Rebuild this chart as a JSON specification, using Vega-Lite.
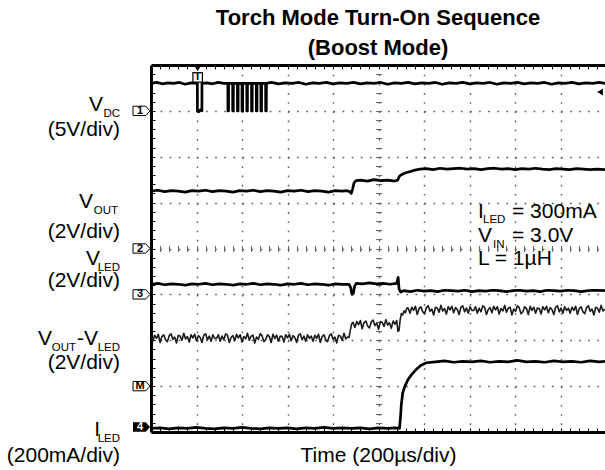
{
"$schema": "https://vega.github.io/schema/vega-lite/v6.json",
"width": 454, "height": 367,
"autosize": {"type": "none"},
"padding": {"left": 151, "top": 65, "right": 0, "bottom": 38},
"background": "white",
"config": {"view": {"stroke": null}, "font": "Liberation Sans", "text": {"font": "Liberation Sans", "color": "black"}},
"title": {"text": ["Torch Mode Turn-On Sequence", "(Boost Mode)"], "fontSize": 22, "fontWeight": "bold", "font": "Liberation Sans", "color": "black", "lineHeight": 30, "offset": 5, "anchor": "middle"},
"datasets": {
"tr": [
{"s":"vdc","t":0,"d":7.6},{"s":"vdc","t":25,"d":7.62},{"s":"vdc","t":50,"d":7.59},{"s":"vdc","t":75,"d":7.61},{"s":"vdc","t":100,"d":7.6},{"s":"vdc","t":125,"d":7.62},{"s":"vdc","t":150,"d":7.58},{"s":"vdc","t":175,"d":7.61},{"s":"vdc","t":203.7,"d":7.6},{"s":"vdc","t":204,"d":7.0},{"s":"vdc","t":210,"d":6.98},{"s":"vdc","t":216,"d":7.02},{"s":"vdc","t":223.7,"d":7.0},{"s":"vdc","t":224,"d":7.6},{"s":"vdc","t":245,"d":7.61},{"s":"vdc","t":270,"d":7.59},{"s":"vdc","t":295,"d":7.62},{"s":"vdc","t":320,"d":7.6},{"s":"vdc","t":337.7,"d":7.6},
{"s":"vdc","t":338,"d":7.0},{"s":"vdc","t":340.7,"d":7.0},{"s":"vdc","t":341,"d":7.6},{"s":"vdc","t":358.7,"d":7.6},{"s":"vdc","t":359,"d":7.0},{"s":"vdc","t":361.7,"d":7.0},{"s":"vdc","t":362,"d":7.6},{"s":"vdc","t":379.7,"d":7.6},{"s":"vdc","t":380,"d":7.0},{"s":"vdc","t":382.7,"d":7.0},{"s":"vdc","t":383,"d":7.6},{"s":"vdc","t":399.7,"d":7.6},{"s":"vdc","t":400,"d":7.0},{"s":"vdc","t":402.7,"d":7.0},{"s":"vdc","t":403,"d":7.6},{"s":"vdc","t":420.7,"d":7.6},{"s":"vdc","t":421,"d":7.0},{"s":"vdc","t":423.7,"d":7.0},{"s":"vdc","t":424,"d":7.6},{"s":"vdc","t":441.7,"d":7.6},{"s":"vdc","t":442,"d":7.0},{"s":"vdc","t":444.7,"d":7.0},{"s":"vdc","t":445,"d":7.6},{"s":"vdc","t":462.7,"d":7.6},{"s":"vdc","t":463,"d":7.0},{"s":"vdc","t":465.7,"d":7.0},{"s":"vdc","t":466,"d":7.6},{"s":"vdc","t":482.7,"d":7.6},{"s":"vdc","t":483,"d":7.0},{"s":"vdc","t":485.7,"d":7.0},{"s":"vdc","t":486,"d":7.6},{"s":"vdc","t":503.7,"d":7.6},{"s":"vdc","t":504,"d":7.0},{"s":"vdc","t":506.7,"d":7.0},{"s":"vdc","t":507,"d":7.6},
{"s":"vdc","t":530,"d":7.62},{"s":"vdc","t":560,"d":7.59},{"s":"vdc","t":590,"d":7.61},{"s":"vdc","t":620,"d":7.6},{"s":"vdc","t":650,"d":7.62},{"s":"vdc","t":680,"d":7.58},{"s":"vdc","t":710,"d":7.61},{"s":"vdc","t":740,"d":7.6},{"s":"vdc","t":770,"d":7.62},{"s":"vdc","t":800,"d":7.59},{"s":"vdc","t":830,"d":7.61},{"s":"vdc","t":860,"d":7.6},{"s":"vdc","t":890,"d":7.62},{"s":"vdc","t":920,"d":7.59},{"s":"vdc","t":950,"d":7.61},{"s":"vdc","t":980,"d":7.6},{"s":"vdc","t":1010,"d":7.62},{"s":"vdc","t":1040,"d":7.58},{"s":"vdc","t":1070,"d":7.61},{"s":"vdc","t":1100,"d":7.6},{"s":"vdc","t":1130,"d":7.62},{"s":"vdc","t":1160,"d":7.59},{"s":"vdc","t":1190,"d":7.61},{"s":"vdc","t":1220,"d":7.6},{"s":"vdc","t":1250,"d":7.62},{"s":"vdc","t":1280,"d":7.58},{"s":"vdc","t":1310,"d":7.61},{"s":"vdc","t":1340,"d":7.6},{"s":"vdc","t":1370,"d":7.62},{"s":"vdc","t":1400,"d":7.59},{"s":"vdc","t":1430,"d":7.61},{"s":"vdc","t":1460,"d":7.6},{"s":"vdc","t":1490,"d":7.62},{"s":"vdc","t":1520,"d":7.58},{"s":"vdc","t":1550,"d":7.61},{"s":"vdc","t":1580,"d":7.6},{"s":"vdc","t":1610,"d":7.62},{"s":"vdc","t":1640,"d":7.59},{"s":"vdc","t":1670,"d":7.61},{"s":"vdc","t":1700,"d":7.6},{"s":"vdc","t":1730,"d":7.62},{"s":"vdc","t":1760,"d":7.58},{"s":"vdc","t":1790,"d":7.61},{"s":"vdc","t":1820,"d":7.6},{"s":"vdc","t":1850,"d":7.62},{"s":"vdc","t":1880,"d":7.59},{"s":"vdc","t":1910,"d":7.61},{"s":"vdc","t":1940,"d":7.6},{"s":"vdc","t":1970,"d":7.62},{"s":"vdc","t":1995,"d":7.6},
{"s":"vout","t":0,"d":5.25},{"s":"vout","t":30,"d":5.27},{"s":"vout","t":60,"d":5.24},{"s":"vout","t":90,"d":5.26},{"s":"vout","t":120,"d":5.25},{"s":"vout","t":150,"d":5.23},{"s":"vout","t":180,"d":5.26},{"s":"vout","t":210,"d":5.25},{"s":"vout","t":240,"d":5.27},{"s":"vout","t":270,"d":5.24},{"s":"vout","t":300,"d":5.26},{"s":"vout","t":330,"d":5.25},{"s":"vout","t":360,"d":5.23},{"s":"vout","t":390,"d":5.26},{"s":"vout","t":420,"d":5.25},{"s":"vout","t":450,"d":5.27},{"s":"vout","t":480,"d":5.24},{"s":"vout","t":510,"d":5.26},{"s":"vout","t":540,"d":5.25},{"s":"vout","t":570,"d":5.23},{"s":"vout","t":600,"d":5.26},{"s":"vout","t":630,"d":5.25},{"s":"vout","t":660,"d":5.27},{"s":"vout","t":690,"d":5.24},{"s":"vout","t":720,"d":5.26},{"s":"vout","t":750,"d":5.25},{"s":"vout","t":780,"d":5.23},{"s":"vout","t":810,"d":5.26},{"s":"vout","t":840,"d":5.25},{"s":"vout","t":860,"d":5.26},{"s":"vout","t":874,"d":5.24},{"s":"vout","t":880,"d":5.2},{"s":"vout","t":886,"d":5.3},{"s":"vout","t":893,"d":5.44},{"s":"vout","t":902,"d":5.48},{"s":"vout","t":920,"d":5.49},{"s":"vout","t":950,"d":5.47},{"s":"vout","t":980,"d":5.5},{"s":"vout","t":1010,"d":5.48},{"s":"vout","t":1040,"d":5.49},{"s":"vout","t":1070,"d":5.47},{"s":"vout","t":1084,"d":5.49},{"s":"vout","t":1090,"d":5.56},{"s":"vout","t":1097,"d":5.6},{"s":"vout","t":1105,"d":5.62},{"s":"vout","t":1120,"d":5.65},{"s":"vout","t":1140,"d":5.68},{"s":"vout","t":1160,"d":5.71},{"s":"vout","t":1182,"d":5.73},{"s":"vout","t":1210,"d":5.74},{"s":"vout","t":1240,"d":5.72},{"s":"vout","t":1270,"d":5.75},{"s":"vout","t":1300,"d":5.73},{"s":"vout","t":1330,"d":5.74},{"s":"vout","t":1360,"d":5.75},{"s":"vout","t":1390,"d":5.73},{"s":"vout","t":1420,"d":5.74},{"s":"vout","t":1450,"d":5.72},{"s":"vout","t":1480,"d":5.74},{"s":"vout","t":1510,"d":5.75},{"s":"vout","t":1540,"d":5.73},{"s":"vout","t":1570,"d":5.74},{"s":"vout","t":1600,"d":5.72},{"s":"vout","t":1630,"d":5.74},{"s":"vout","t":1660,"d":5.73},{"s":"vout","t":1690,"d":5.75},{"s":"vout","t":1720,"d":5.73},{"s":"vout","t":1750,"d":5.72},{"s":"vout","t":1780,"d":5.74},{"s":"vout","t":1810,"d":5.73},{"s":"vout","t":1840,"d":5.72},{"s":"vout","t":1870,"d":5.74},{"s":"vout","t":1900,"d":5.73},{"s":"vout","t":1930,"d":5.72},{"s":"vout","t":1960,"d":5.73},{"s":"vout","t":1995,"d":5.72},
{"s":"vled","t":0,"d":3.22},{"s":"vled","t":30,"d":3.24},{"s":"vled","t":60,"d":3.21},{"s":"vled","t":90,"d":3.23},{"s":"vled","t":120,"d":3.22},{"s":"vled","t":150,"d":3.2},{"s":"vled","t":180,"d":3.23},{"s":"vled","t":210,"d":3.22},{"s":"vled","t":240,"d":3.24},{"s":"vled","t":270,"d":3.21},{"s":"vled","t":300,"d":3.23},{"s":"vled","t":330,"d":3.22},{"s":"vled","t":360,"d":3.2},{"s":"vled","t":390,"d":3.23},{"s":"vled","t":420,"d":3.22},{"s":"vled","t":450,"d":3.24},{"s":"vled","t":480,"d":3.21},{"s":"vled","t":510,"d":3.23},{"s":"vled","t":540,"d":3.22},{"s":"vled","t":570,"d":3.2},{"s":"vled","t":600,"d":3.23},{"s":"vled","t":630,"d":3.22},{"s":"vled","t":660,"d":3.24},{"s":"vled","t":690,"d":3.21},{"s":"vled","t":720,"d":3.23},{"s":"vled","t":750,"d":3.22},{"s":"vled","t":780,"d":3.2},{"s":"vled","t":810,"d":3.23},{"s":"vled","t":840,"d":3.22},{"s":"vled","t":870,"d":3.22},{"s":"vled","t":878,"d":3.14},{"s":"vled","t":883,"d":3.0},{"s":"vled","t":889,"d":3.02},{"s":"vled","t":895,"d":3.18},{"s":"vled","t":902,"d":3.24},{"s":"vled","t":930,"d":3.23},{"s":"vled","t":960,"d":3.25},{"s":"vled","t":990,"d":3.23},{"s":"vled","t":1020,"d":3.24},{"s":"vled","t":1050,"d":3.22},{"s":"vled","t":1080,"d":3.24},{"s":"vled","t":1086,"d":3.37},{"s":"vled","t":1090,"d":3.12},{"s":"vled","t":1097,"d":3.05},{"s":"vled","t":1110,"d":3.08},{"s":"vled","t":1140,"d":3.06},{"s":"vled","t":1170,"d":3.09},{"s":"vled","t":1200,"d":3.07},{"s":"vled","t":1230,"d":3.08},{"s":"vled","t":1260,"d":3.06},{"s":"vled","t":1290,"d":3.09},{"s":"vled","t":1320,"d":3.08},{"s":"vled","t":1350,"d":3.07},{"s":"vled","t":1380,"d":3.09},{"s":"vled","t":1410,"d":3.06},{"s":"vled","t":1440,"d":3.08},{"s":"vled","t":1470,"d":3.07},{"s":"vled","t":1500,"d":3.09},{"s":"vled","t":1530,"d":3.08},{"s":"vled","t":1560,"d":3.06},{"s":"vled","t":1590,"d":3.08},{"s":"vled","t":1620,"d":3.09},{"s":"vled","t":1650,"d":3.07},{"s":"vled","t":1680,"d":3.08},{"s":"vled","t":1710,"d":3.06},{"s":"vled","t":1740,"d":3.09},{"s":"vled","t":1770,"d":3.08},{"s":"vled","t":1800,"d":3.07},{"s":"vled","t":1830,"d":3.09},{"s":"vled","t":1860,"d":3.08},{"s":"vled","t":1890,"d":3.06},{"s":"vled","t":1920,"d":3.08},{"s":"vled","t":1950,"d":3.09},{"s":"vled","t":1995,"d":3.08},
{"s":"iled","t":0,"d":0.08},{"s":"iled","t":40,"d":0.09},{"s":"iled","t":80,"d":0.07},{"s":"iled","t":120,"d":0.09},{"s":"iled","t":160,"d":0.08},{"s":"iled","t":200,"d":0.1},{"s":"iled","t":240,"d":0.08},{"s":"iled","t":280,"d":0.07},{"s":"iled","t":320,"d":0.09},{"s":"iled","t":360,"d":0.08},{"s":"iled","t":400,"d":0.1},{"s":"iled","t":440,"d":0.08},{"s":"iled","t":480,"d":0.07},{"s":"iled","t":520,"d":0.09},{"s":"iled","t":560,"d":0.08},{"s":"iled","t":600,"d":0.09},{"s":"iled","t":640,"d":0.07},{"s":"iled","t":680,"d":0.09},{"s":"iled","t":720,"d":0.08},{"s":"iled","t":760,"d":0.1},{"s":"iled","t":800,"d":0.08},{"s":"iled","t":840,"d":0.09},{"s":"iled","t":880,"d":0.08},{"s":"iled","t":920,"d":0.09},{"s":"iled","t":960,"d":0.07},{"s":"iled","t":1000,"d":0.09},{"s":"iled","t":1040,"d":0.08},{"s":"iled","t":1070,"d":0.09},{"s":"iled","t":1092,"d":0.08},{"s":"iled","t":1096,"d":0.3},{"s":"iled","t":1100,"d":0.6},{"s":"iled","t":1106,"d":0.85},{"s":"iled","t":1115,"d":0.99},{"s":"iled","t":1130,"d":1.15},{"s":"iled","t":1145,"d":1.25},{"s":"iled","t":1165,"d":1.36},{"s":"iled","t":1185,"d":1.45},{"s":"iled","t":1210,"d":1.51},{"s":"iled","t":1250,"d":1.53},{"s":"iled","t":1290,"d":1.55},{"s":"iled","t":1330,"d":1.52},{"s":"iled","t":1370,"d":1.54},{"s":"iled","t":1410,"d":1.53},{"s":"iled","t":1450,"d":1.55},{"s":"iled","t":1490,"d":1.52},{"s":"iled","t":1530,"d":1.54},{"s":"iled","t":1570,"d":1.53},{"s":"iled","t":1610,"d":1.56},{"s":"iled","t":1650,"d":1.53},{"s":"iled","t":1690,"d":1.54},{"s":"iled","t":1730,"d":1.52},{"s":"iled","t":1770,"d":1.55},{"s":"iled","t":1810,"d":1.53},{"s":"iled","t":1850,"d":1.54},{"s":"iled","t":1890,"d":1.52},{"s":"iled","t":1930,"d":1.55},{"s":"iled","t":1970,"d":1.53},{"s":"iled","t":1995,"d":1.54}
],
"df": [
{"t":0,"d":2.09},{"t":8,"d":1.98},{"t":16,"d":2.11},{"t":24,"d":2.04},{"t":32,"d":2.13},{"t":40,"d":1.95},{"t":48,"d":2.08},{"t":56,"d":2.12},{"t":64,"d":2.01},{"t":72,"d":1.97},{"t":80,"d":2.10},{"t":88,"d":2.14},{"t":96,"d":2.02},{"t":104,"d":2.07},{"t":112,"d":1.94},{"t":120,"d":2.11},{"t":128,"d":2.09},{"t":136,"d":2.00},{"t":144,"d":2.15},{"t":152,"d":2.03},{"t":160,"d":2.08},{"t":168,"d":1.96},{"t":176,"d":2.12},{"t":184,"d":2.05},{"t":192,"d":2.13},{"t":200,"d":1.99},{"t":208,"d":2.10},{"t":216,"d":2.06},{"t":224,"d":1.95},{"t":232,"d":2.11},{"t":240,"d":2.14},{"t":248,"d":2.01},{"t":256,"d":2.09},{"t":264,"d":1.98},{"t":272,"d":2.12},{"t":280,"d":2.04},
{"t":288,"d":2.04},{"t":296,"d":2.12},{"t":304,"d":1.98},{"t":312,"d":2.09},{"t":320,"d":2.01},{"t":328,"d":2.14},{"t":336,"d":2.11},{"t":344,"d":1.95},{"t":352,"d":2.06},{"t":360,"d":2.10},{"t":368,"d":1.99},{"t":376,"d":2.13},{"t":384,"d":2.05},{"t":392,"d":2.12},{"t":400,"d":1.96},{"t":408,"d":2.08},{"t":416,"d":2.03},{"t":424,"d":2.15},{"t":432,"d":2.00},{"t":440,"d":2.09},{"t":448,"d":2.11},{"t":456,"d":1.94},{"t":464,"d":2.07},{"t":472,"d":2.02},{"t":480,"d":2.14},{"t":488,"d":2.10},{"t":496,"d":1.97},{"t":504,"d":2.01},{"t":512,"d":2.12},{"t":520,"d":2.08},{"t":528,"d":1.95},{"t":536,"d":2.13},{"t":544,"d":2.04},{"t":552,"d":2.11},{"t":560,"d":1.98},{"t":568,"d":2.09},
{"t":576,"d":2.08},{"t":584,"d":1.96},{"t":592,"d":2.12},{"t":600,"d":2.05},{"t":608,"d":2.13},{"t":616,"d":1.99},{"t":624,"d":2.10},{"t":632,"d":2.06},{"t":640,"d":1.95},{"t":648,"d":2.11},{"t":656,"d":2.14},{"t":664,"d":2.01},{"t":672,"d":2.09},{"t":680,"d":1.98},{"t":688,"d":2.12},{"t":696,"d":2.04},{"t":704,"d":2.09},{"t":712,"d":1.98},{"t":720,"d":2.11},{"t":728,"d":2.04},{"t":736,"d":2.13},{"t":744,"d":1.95},{"t":752,"d":2.08},{"t":760,"d":2.12},{"t":768,"d":2.01},{"t":776,"d":1.97},{"t":784,"d":2.10},{"t":792,"d":2.14},{"t":800,"d":2.02},{"t":808,"d":2.07},{"t":816,"d":1.94},{"t":824,"d":2.11},{"t":832,"d":2.09},{"t":840,"d":2.00},{"t":848,"d":2.15},{"t":856,"d":2.03},{"t":864,"d":2.07},
{"t":870,"d":2.06},{"t":876,"d":2.22},{"t":882,"d":2.36},
{"t":888,"d":2.39},{"t":896,"d":2.28},{"t":904,"d":2.41},{"t":912,"d":2.34},{"t":920,"d":2.43},{"t":928,"d":2.25},{"t":936,"d":2.38},{"t":944,"d":2.42},{"t":952,"d":2.31},{"t":960,"d":2.27},{"t":968,"d":2.40},{"t":976,"d":2.44},{"t":984,"d":2.32},{"t":992,"d":2.37},{"t":1000,"d":2.24},{"t":1008,"d":2.41},{"t":1016,"d":2.39},{"t":1024,"d":2.30},{"t":1032,"d":2.45},{"t":1040,"d":2.33},{"t":1048,"d":2.38},{"t":1056,"d":2.26},{"t":1064,"d":2.42},{"t":1072,"d":2.35},{"t":1080,"d":2.43},
{"t":1085,"d":2.19},{"t":1090,"d":2.22},{"t":1095,"d":2.45},{"t":1100,"d":2.58},{"t":1106,"d":2.55},{"t":1112,"d":2.64},{"t":1118,"d":2.60},{"t":1124,"d":2.70},
{"t":1130,"d":2.70},{"t":1138,"d":2.59},{"t":1146,"d":2.72},{"t":1154,"d":2.65},{"t":1162,"d":2.74},{"t":1170,"d":2.56},{"t":1178,"d":2.69},{"t":1186,"d":2.73},{"t":1194,"d":2.62},{"t":1202,"d":2.58},{"t":1210,"d":2.71},{"t":1218,"d":2.75},{"t":1226,"d":2.63},{"t":1234,"d":2.68},{"t":1242,"d":2.55},{"t":1250,"d":2.72},{"t":1258,"d":2.70},{"t":1266,"d":2.61},{"t":1274,"d":2.76},{"t":1282,"d":2.64},{"t":1290,"d":2.69},{"t":1298,"d":2.57},{"t":1306,"d":2.73},{"t":1314,"d":2.66},{"t":1322,"d":2.74},{"t":1330,"d":2.60},{"t":1338,"d":2.71},{"t":1346,"d":2.67},{"t":1354,"d":2.56},{"t":1362,"d":2.72},{"t":1370,"d":2.75},{"t":1378,"d":2.62},{"t":1386,"d":2.70},{"t":1394,"d":2.59},{"t":1402,"d":2.73},{"t":1410,"d":2.65},
{"t":1418,"d":2.65},{"t":1426,"d":2.73},{"t":1434,"d":2.59},{"t":1442,"d":2.70},{"t":1450,"d":2.62},{"t":1458,"d":2.75},{"t":1466,"d":2.72},{"t":1474,"d":2.56},{"t":1482,"d":2.67},{"t":1490,"d":2.71},{"t":1498,"d":2.60},{"t":1506,"d":2.74},{"t":1514,"d":2.66},{"t":1522,"d":2.73},{"t":1530,"d":2.57},{"t":1538,"d":2.69},{"t":1546,"d":2.64},{"t":1554,"d":2.76},{"t":1562,"d":2.61},{"t":1570,"d":2.70},{"t":1578,"d":2.72},{"t":1586,"d":2.55},{"t":1594,"d":2.68},{"t":1602,"d":2.63},{"t":1610,"d":2.75},{"t":1618,"d":2.71},{"t":1626,"d":2.58},{"t":1634,"d":2.62},{"t":1642,"d":2.73},{"t":1650,"d":2.69},{"t":1658,"d":2.56},{"t":1666,"d":2.74},{"t":1674,"d":2.65},{"t":1682,"d":2.72},{"t":1690,"d":2.59},{"t":1698,"d":2.70},
{"t":1706,"d":2.69},{"t":1714,"d":2.57},{"t":1722,"d":2.73},{"t":1730,"d":2.66},{"t":1738,"d":2.74},{"t":1746,"d":2.60},{"t":1754,"d":2.71},{"t":1762,"d":2.67},{"t":1770,"d":2.56},{"t":1778,"d":2.72},{"t":1786,"d":2.75},{"t":1794,"d":2.62},{"t":1802,"d":2.70},{"t":1810,"d":2.59},{"t":1818,"d":2.73},{"t":1826,"d":2.65},{"t":1834,"d":2.70},{"t":1842,"d":2.59},{"t":1850,"d":2.72},{"t":1858,"d":2.65},{"t":1866,"d":2.74},{"t":1874,"d":2.56},{"t":1882,"d":2.69},{"t":1890,"d":2.73},{"t":1898,"d":2.62},{"t":1906,"d":2.58},{"t":1914,"d":2.71},{"t":1922,"d":2.75},{"t":1930,"d":2.63},{"t":1938,"d":2.68},{"t":1946,"d":2.55},{"t":1954,"d":2.72},{"t":1962,"d":2.70},{"t":1970,"d":2.61},{"t":1978,"d":2.76},{"t":1986,"d":2.64},{"t":1994,"d":2.68}
],
"nt": [
{"g":"a1","txt":"I","t":1437,"d":4.66},{"g":"a2","txt":"LED","t":1437,"d":4.66},{"g":"a4","txt":"= 300mA","t":1437,"d":4.66},
{"g":"a1","txt":"V","t":1437,"d":4.14},{"g":"a3","txt":"IN","t":1437,"d":4.14},{"g":"a4","txt":"= 3.0V","t":1437,"d":4.14},
{"g":"a1","txt":"L = 1µH","t":1437,"d":3.64}
],
"lb": [
{"g":"u","txt":"(5V/div)","d":6.45},{"g":"u","txt":"(2V/div)","d":4.22},{"g":"u","txt":"(2V/div)","d":3.16},{"g":"u","txt":"(2V/div)","d":1.38},{"g":"u","txt":"(200mA/div)","d":-0.65},
{"g":"m2","txt":"V","d":7.0},{"g":"s1","txt":"DC","d":7.0},
{"g":"m3","txt":"V","d":4.88},{"g":"s2","txt":"OUT","d":4.88},
{"g":"m1","txt":"V","d":3.64},{"g":"s1","txt":"LED","d":3.64},
{"g":"m4","txt":"V","d":1.9},{"g":"s3","txt":"OUT","d":1.9},{"g":"m5","txt":"-V","d":1.9},{"g":"s1","txt":"LED","d":1.9},
{"g":"m1","txt":"I","d":-0.09},{"g":"s1","txt":"LED","d":-0.09}
],
"mk": [
{"m":"1","d":7,"f":"o"},{"m":"2","d":4,"f":"o"},{"m":"3","d":3,"f":"o"},{"m":"M","d":1,"f":"o"},{"m":"4","d":0,"f":"f"}
],
"sym": [
{"k":"trig","t":205,"d":8},{"k":"box","t":205,"d":7.73},{"k":"lvl","t":1973,"d":7.41}
]
},
"layer": [
{"data": {"name": "tr"},
 "mark": {"type": "line", "color": "black", "strokeWidth": 2.7, "strokeJoin": "round", "clip": true},
 "encoding": {
  "x": {"field": "t", "type": "quantitative", "scale": {"domain": [0, 1995], "nice": false, "zero": false},
        "axis": {"orient": "bottom", "values": [200,400,600,800,1000,1200,1400,1600,1800], "grid": true, "gridColor": "#555", "gridDash": [1.6, 7.575], "gridWidth": 1.4, "ticks": false, "labels": false, "domain": true, "domainColor": "black", "domainWidth": 3, "title": "Time (200µs/div)", "titleFont": "Liberation Sans", "titleFontSize": 21, "titleFontWeight": "normal", "titleColor": "black", "titlePadding": 12}},
  "y": {"field": "d", "type": "quantitative", "scale": {"domain": [0, 8], "nice": false, "zero": false},
        "axis": {"orient": "left", "values": [1,2,3,4,5,6,7], "grid": true, "gridColor": "#555", "gridDash": [1.6, 7.5], "gridWidth": 1.4, "ticks": false, "labels": false, "domain": true, "domainColor": "black", "domainWidth": 3, "title": null}},
  "detail": {"field": "s"}
 }},
{"data": {"name": "df"},
 "mark": {"type": "line", "color": "#1a1a1a", "strokeWidth": 1.6, "strokeJoin": "round", "clip": true},
 "encoding": {
  "x": {"field": "t", "type": "quantitative", "axis": null},
  "y": {"field": "d", "type": "quantitative", "axis": null}
 }},
{"data": {"name": "nt"}, "transform": [{"filter": "datum.g === 'a1'"}],
 "mark": {"type": "text", "align": "left", "baseline": "alphabetic", "fontSize": 21, "font": "Liberation Sans", "color": "black"},
 "encoding": {
  "x": {"field": "t", "type": "quantitative",
        "axis": {"orient": "top", "values": [0,40,80,120,160,200,240,280,320,360,400,440,480,520,560,600,640,680,720,760,800,840,880,920,960,1000,1040,1080,1120,1160,1200,1240,1280,1320,1360,1400,1440,1480,1520,1560,1600,1640,1680,1720,1760,1800,1840,1880,1920,1960], "ticks": true, "tickSize": -4, "tickColor": "black", "tickWidth": 1, "labels": false, "grid": false, "domain": true, "domainColor": "black", "domainWidth": 3, "title": null}},
  "y": {"field": "d", "type": "quantitative",
        "axis": {"orient": "left", "values": [0.2,0.4,0.6,0.8,1,1.2,1.4,1.6,1.8,2,2.2,2.4,2.6,2.8,3,3.2,3.4,3.6,3.8,4,4.2,4.4,4.6,4.8,5,5.2,5.4,5.6,5.8,6,6.2,6.4,6.6,6.8,7,7.2,7.4,7.6,7.8], "ticks": true, "tickSize": -4, "tickColor": "black", "tickWidth": 1, "labels": false, "grid": false, "domain": false, "title": null}},
  "text": {"field": "txt"}
 }},
{"data": {"name": "nt"}, "transform": [{"filter": "datum.g === 'a2'"}],
 "mark": {"type": "text", "align": "left", "baseline": "alphabetic", "fontSize": 11.5, "dx": 5, "dy": 5, "font": "Liberation Sans", "color": "black"},
 "encoding": {
  "x": {"field": "t", "type": "quantitative",
        "axis": {"orient": "bottom", "values": [40,80,120,160,200,240,280,320,360,400,440,480,520,560,600,640,680,720,760,800,840,880,920,960,1000,1040,1080,1120,1160,1200,1240,1280,1320,1360,1400,1440,1480,1520,1560,1600,1640,1680,1720,1760,1800,1840,1880,1920,1960], "ticks": true, "tickSize": -4, "tickColor": "black", "tickWidth": 1, "labels": false, "grid": false, "domain": false, "title": null}},
  "y": {"field": "d", "type": "quantitative",
        "axis": {"orient": "left", "offset": -230.6, "values": [0.2,0.4,0.6,0.8,1,1.2,1.4,1.6,1.8,2,2.2,2.4,2.6,2.8,3,3.2,3.4,3.6,3.8,4,4.2,4.4,4.6,4.8,5,5.2,5.4,5.6,5.8,6,6.2,6.4,6.6,6.8,7,7.2,7.4,7.6,7.8], "ticks": true, "tickSize": 6, "tickColor": "#666", "tickWidth": 1, "labels": false, "grid": false, "domain": false, "title": null}},
  "text": {"field": "txt"}
 }},
{"data": {"name": "nt"}, "transform": [{"filter": "datum.g === 'a3'"}],
 "mark": {"type": "text", "align": "left", "baseline": "alphabetic", "fontSize": 11.5, "dx": 15, "dy": 6, "font": "Liberation Sans", "color": "black"},
 "encoding": {
  "x": {"field": "t", "type": "quantitative",
        "axis": {"orient": "bottom", "offset": -186.5, "values": [40,80,120,160,200,240,280,320,360,400,440,480,520,560,600,640,680,720,760,800,840,880,920,960,1000,1040,1080,1120,1160,1200,1240,1280,1320,1360,1400,1440,1480,1520,1560,1600,1640,1680,1720,1760,1800,1840,1880,1920,1960], "ticks": true, "tickSize": 6, "tickColor": "#666", "tickWidth": 1, "labels": false, "grid": false, "domain": false, "title": null}},
  "y": {"field": "d", "type": "quantitative", "axis": null},
  "text": {"field": "txt"}
 }},
{"data": {"name": "nt"}, "transform": [{"filter": "datum.g === 'a4'"}],
 "mark": {"type": "text", "align": "left", "baseline": "alphabetic", "fontSize": 21, "dx": 34, "font": "Liberation Sans", "color": "black"},
 "encoding": {
  "x": {"field": "t", "type": "quantitative", "axis": null},
  "y": {"field": "d", "type": "quantitative", "axis": null},
  "text": {"field": "txt"}
 }},
{"data": {"name": "lb"}, "transform": [{"filter": "datum.g === 'u'"}],
 "mark": {"type": "text", "align": "right", "baseline": "alphabetic", "fontSize": 21, "dx": -31, "font": "Liberation Sans", "color": "black"},
 "encoding": {"x": {"datum": 0, "type": "quantitative", "axis": null}, "y": {"field": "d", "type": "quantitative", "axis": null}, "text": {"field": "txt"}}},
{"data": {"name": "lb"}, "transform": [{"filter": "datum.g === 's1'"}],
 "mark": {"type": "text", "align": "right", "baseline": "alphabetic", "fontSize": 11.5, "dx": -31, "dy": 6, "font": "Liberation Sans", "color": "black"},
 "encoding": {"x": {"datum": 0, "type": "quantitative", "axis": null}, "y": {"field": "d", "type": "quantitative", "axis": null}, "text": {"field": "txt"}}},
{"data": {"name": "lb"}, "transform": [{"filter": "datum.g === 's2'"}],
 "mark": {"type": "text", "align": "right", "baseline": "alphabetic", "fontSize": 11.5, "dx": -33, "dy": 6, "font": "Liberation Sans", "color": "black"},
 "encoding": {"x": {"datum": 0, "type": "quantitative", "axis": null}, "y": {"field": "d", "type": "quantitative", "axis": null}, "text": {"field": "txt"}}},
{"data": {"name": "lb"}, "transform": [{"filter": "datum.g === 's3'"}],
 "mark": {"type": "text", "align": "right", "baseline": "alphabetic", "fontSize": 11.5, "dx": -75, "dy": 6, "font": "Liberation Sans", "color": "black"},
 "encoding": {"x": {"datum": 0, "type": "quantitative", "axis": null}, "y": {"field": "d", "type": "quantitative", "axis": null}, "text": {"field": "txt"}}},
{"data": {"name": "lb"}, "transform": [{"filter": "datum.g === 'm1'"}],
 "mark": {"type": "text", "align": "right", "baseline": "alphabetic", "fontSize": 21, "dx": -51, "font": "Liberation Sans", "color": "black"},
 "encoding": {"x": {"datum": 0, "type": "quantitative", "axis": null}, "y": {"field": "d", "type": "quantitative", "axis": null}, "text": {"field": "txt"}}},
{"data": {"name": "lb"}, "transform": [{"filter": "datum.g === 'm5'"}],
 "mark": {"type": "text", "align": "right", "baseline": "alphabetic", "fontSize": 21, "dx": -53, "font": "Liberation Sans", "color": "black"},
 "encoding": {"x": {"datum": 0, "type": "quantitative", "axis": null}, "y": {"field": "d", "type": "quantitative", "axis": null}, "text": {"field": "txt"}}},
{"data": {"name": "lb"}, "transform": [{"filter": "datum.g === 'm2'"}],
 "mark": {"type": "text", "align": "right", "baseline": "alphabetic", "fontSize": 21, "dx": -48, "font": "Liberation Sans", "color": "black"},
 "encoding": {"x": {"datum": 0, "type": "quantitative", "axis": null}, "y": {"field": "d", "type": "quantitative", "axis": null}, "text": {"field": "txt"}}},
{"data": {"name": "lb"}, "transform": [{"filter": "datum.g === 'm3'"}],
 "mark": {"type": "text", "align": "right", "baseline": "alphabetic", "fontSize": 21, "dx": -58, "font": "Liberation Sans", "color": "black"},
 "encoding": {"x": {"datum": 0, "type": "quantitative", "axis": null}, "y": {"field": "d", "type": "quantitative", "axis": null}, "text": {"field": "txt"}}},
{"data": {"name": "lb"}, "transform": [{"filter": "datum.g === 'm4'"}],
 "mark": {"type": "text", "align": "right", "baseline": "alphabetic", "fontSize": 21, "dx": -99, "font": "Liberation Sans", "color": "black"},
 "encoding": {"x": {"datum": 0, "type": "quantitative", "axis": null}, "y": {"field": "d", "type": "quantitative", "axis": null}, "text": {"field": "txt"}}},
{"data": {"name": "mk"}, "transform": [{"filter": "datum.f === 'o'"}],
 "mark": {"type": "point", "shape": "M -1 -0.55 L 0.5 -0.55 L 1 0 L 0.5 0.55 L -1 0.55 Z", "size": 289, "filled": false, "stroke": "black", "strokeWidth": 1, "opacity": 1, "xOffset": -9.5},
 "encoding": {"x": {"datum": 0, "type": "quantitative", "axis": null}, "y": {"field": "d", "type": "quantitative", "axis": null}}},
{"data": {"name": "mk"}, "transform": [{"filter": "datum.f === 'f'"}],
 "mark": {"type": "point", "shape": "M -1 -0.55 L 0.5 -0.55 L 1 0 L 0.5 0.55 L -1 0.55 Z", "size": 289, "filled": true, "fill": "black", "opacity": 1, "xOffset": -9.5, "yOffset": -5},
 "encoding": {"x": {"datum": 0, "type": "quantitative", "axis": null}, "y": {"field": "d", "type": "quantitative", "axis": null}}},
{"data": {"name": "mk"}, "transform": [{"filter": "datum.f === 'o'"}],
 "mark": {"type": "text", "align": "center", "baseline": "middle", "fontSize": 11, "fontWeight": "bold", "dx": -11, "font": "Liberation Sans", "color": "black"},
 "encoding": {"x": {"datum": 0, "type": "quantitative", "axis": null}, "y": {"field": "d", "type": "quantitative", "axis": null}, "text": {"field": "m"}}},
{"data": {"name": "mk"}, "transform": [{"filter": "datum.f === 'f'"}],
 "mark": {"type": "text", "align": "center", "baseline": "middle", "fontSize": 11, "fontWeight": "bold", "dx": -11, "dy": -5, "font": "Liberation Sans", "color": "white"},
 "encoding": {"x": {"datum": 0, "type": "quantitative", "axis": null}, "y": {"field": "d", "type": "quantitative", "axis": null}, "text": {"field": "m"}}},
{"data": {"name": "sym"}, "transform": [{"filter": "datum.k === 'trig'"}],
 "mark": {"type": "point", "shape": "triangle-down", "size": 60, "filled": true, "fill": "black", "opacity": 1, "yOffset": 3},
 "encoding": {"x": {"field": "t", "type": "quantitative", "axis": null}, "y": {"field": "d", "type": "quantitative", "axis": null}}},
{"data": {"name": "sym"}, "transform": [{"filter": "datum.k === 'box'"}],
 "mark": {"type": "point", "shape": "square", "size": 90, "filled": true, "fill": "white", "stroke": "black", "strokeWidth": 1.2, "opacity": 1},
 "encoding": {"x": {"field": "t", "type": "quantitative", "axis": null}, "y": {"field": "d", "type": "quantitative", "axis": null}}},
{"data": {"name": "sym"}, "transform": [{"filter": "datum.k === 'box'"}],
 "mark": {"type": "text", "text": "T", "align": "center", "baseline": "middle", "fontSize": 11, "fontWeight": "bold", "font": "Liberation Sans", "color": "black"},
 "encoding": {"x": {"field": "t", "type": "quantitative", "axis": null}, "y": {"field": "d", "type": "quantitative", "axis": null}}},
{"data": {"name": "sym"}, "transform": [{"filter": "datum.k === 'lvl'"}],
 "mark": {"type": "point", "shape": "triangle-left", "size": 45, "filled": true, "fill": "black", "opacity": 1},
 "encoding": {"x": {"field": "t", "type": "quantitative", "axis": null}, "y": {"field": "d", "type": "quantitative", "axis": null}}}
],
"resolve": {"axis": {"x": "independent", "y": "independent"}}
}
